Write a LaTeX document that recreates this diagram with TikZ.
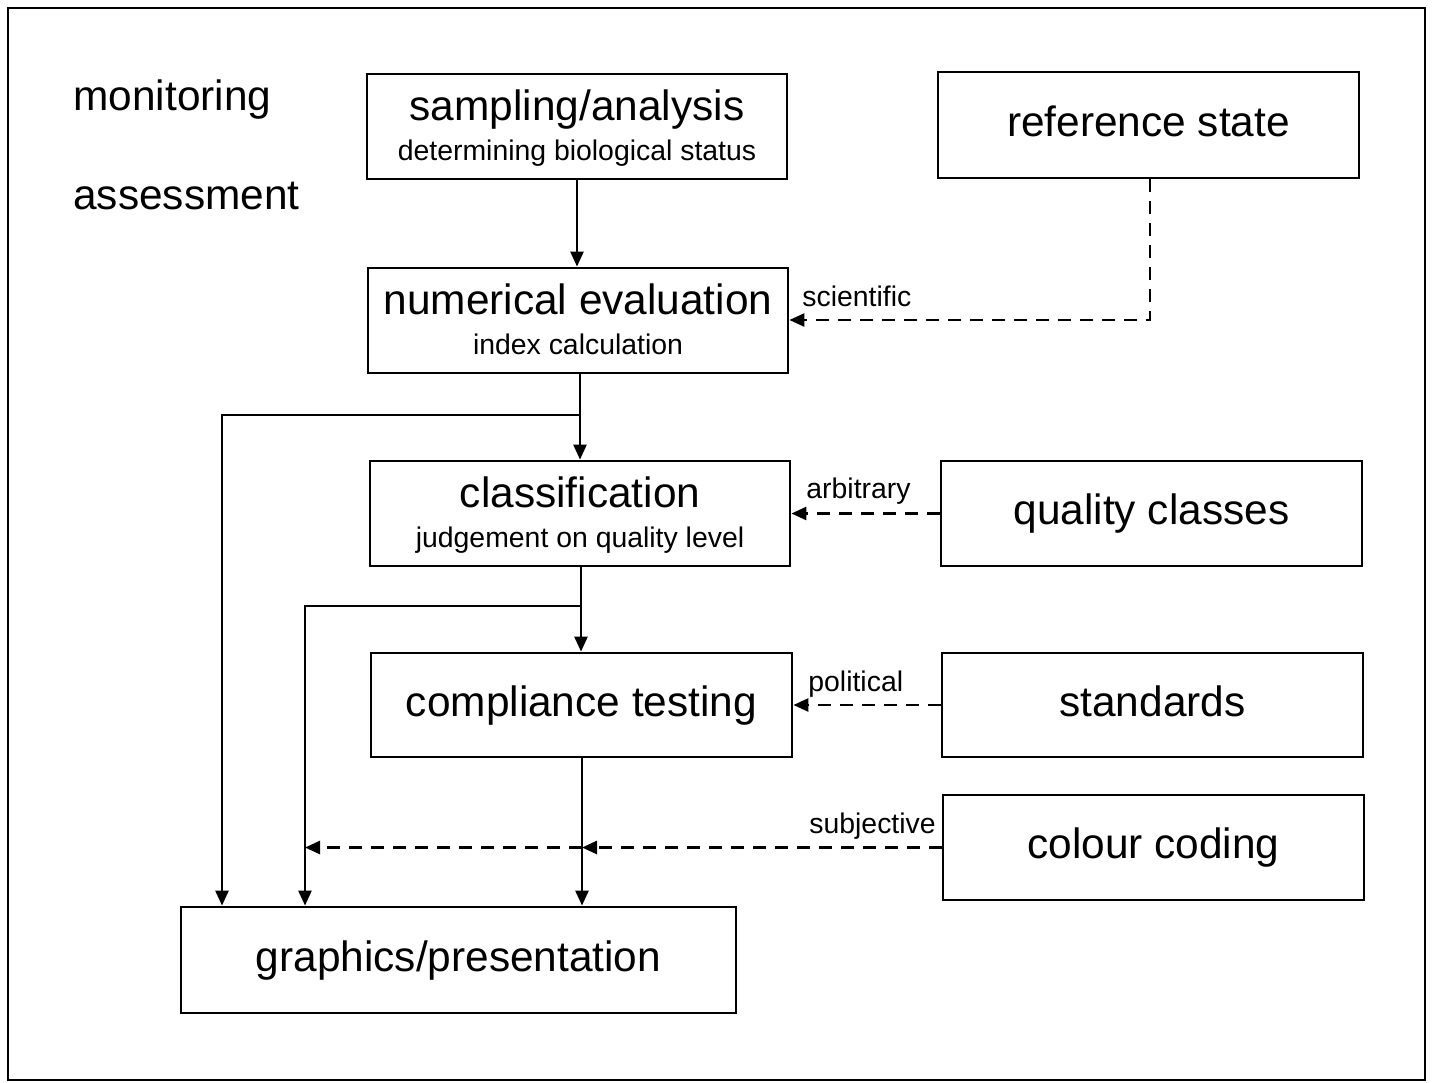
\documentclass[tikz,border=0pt]{standalone}
\usepackage{fontspec}
\setmainfont{Liberation Sans}
\usetikzlibrary{arrows.meta}
\begin{document}
\begin{tikzpicture}[x=0.5pt,y=-0.5pt,
  box/.style={draw,line width=1.4pt,rectangle,inner sep=0pt,minimum width=210pt,minimum height=52.5pt,font=\fontsize{21.2}{25}\selectfont},
  big/.style={inner sep=0pt,font=\fontsize{21.2}{25}\selectfont},
  sml/.style={inner sep=0pt,font=\fontsize{14.2}{17}\selectfont},
  conn/.style={line width=1.25pt,-{Triangle[length=7.5pt,width=6.5pt]}},
  dconn/.style={conn,line width=1.3pt,dash pattern=on 6.5pt off 4.5pt},
]
\useasboundingbox (0,0) rectangle (1439,1082);
\draw[line width=1.1pt] (8,8) rectangle (1425,1080);

% left labels
\node[big,anchor=base west] (mon) at (73,110) {monitoring};
\node[big,anchor=base west] (ass) at (73,209) {assessment};

% boxes
\node[box] (sa) at (577,126.5) {};
\node[big,anchor=base] (sa1) at (577,120) {sampling/analysis};
\node[sml,anchor=base] (sa2) at (577,160) {determining biological status};

\node[box,minimum width=210.5pt,minimum height=53pt] (rs) at (1148.5,125) {};
\node[big,anchor=base] (rs1) at (1148.5,136) {reference state};

\node[box] (ne) at (578,320.5) {};
\node[big,anchor=base] (ne1) at (578,314) {numerical evaluation};
\node[sml,anchor=base] (ne2) at (578,354) {index calculation};

\node[box] (cl) at (580,513.5) {};
\node[big,anchor=base] (cl1) at (580,507) {classification};
\node[sml,anchor=base] (cl2) at (580,547) {judgement on quality level};

\node[box,minimum width=210.5pt] (qc) at (1151.5,513.5) {};
\node[big,anchor=base] (qc1) at (1151.5,524) {quality classes};
\node[box,minimum width=210.5pt,minimum height=52pt] (ct) at (581.5,705) {};
\node[big,anchor=base] (ct1) at (581.5,716) {compliance testing};
\node[box,minimum width=210.5pt,minimum height=52pt] (st) at (1152.5,705) {};
\node[big,anchor=base] (st1) at (1152.5,716) {standards};
\node[box,minimum width=210.5pt] (cc) at (1153.5,847.5) {};
\node[big,anchor=base] (cc1) at (1153.5,858) {colour coding};
\node[box,minimum width=277.5pt,minimum height=53pt] (gp) at (458.5,960) {};
\node[big,anchor=base] (gp1) at (458.5,971) {graphics/presentation};

% connector helper coordinates
\coordinate (j1) at (580,415);
\coordinate (k1) at (222,415);
\coordinate (j2) at (581,606);
\coordinate (k2) at (305,606);
\coordinate (j3) at (582,847.5);
\coordinate (r1) at (1150,320);

% solid connectors
\draw[conn] (sa.south) -- (sa.south |- ne.north);
\draw[conn] (ne.south -| j1) -- (cl.north -| j1);
\draw[conn] (j1) -- (k1) -- (k1 |- gp.north);
\draw[conn] (cl.south -| j2) -- (ct.north -| j2);
\draw[conn] (j2) -- (k2) -- (k2 |- gp.north);
\draw[conn] (ct.south -| j3) -- (gp.north -| j3);

% dashed connectors
\draw[dconn] (rs.south -| r1) -- (r1) -- (r1 -| ne.east);
\draw[dconn] (qc.west) -- (cl.east);
\draw[dconn] (st.west) -- (ct.east);
\draw[dconn] (cc.west) -- (j3);
\draw[dconn] (j3) -- (k2 |- j3);

% connector labels
\node[sml,anchor=base west] (lsci) at (802,306) {scientific};
\node[sml,anchor=base west] (larb) at (806,498) {arbitrary};
\node[sml,anchor=base west] (lpol) at (808,691) {political};
\node[sml,anchor=base west] (lsub) at (809,833) {subjective};
\end{tikzpicture}
\end{document}
